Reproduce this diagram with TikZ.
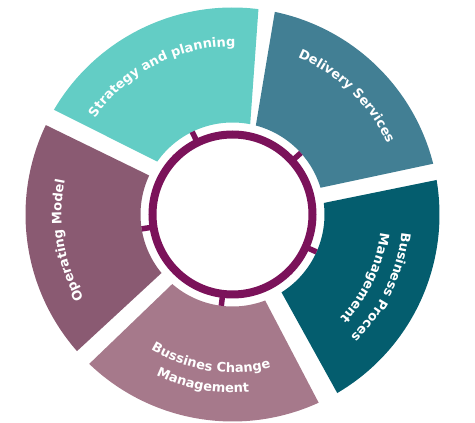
\documentclass[tikz,border=0pt]{standalone}
\usepackage{fontspec}
\setmainfont{DejaVu Sans}
\usetikzlibrary{decorations.text}
\definecolor{cTeal}{HTML}{63CDC5}
\definecolor{cDel}{HTML}{427F94}
\definecolor{cBP}{HTML}{045D6E}
\definecolor{cBC}{HTML}{A6798B}
\definecolor{cOM}{HTML}{8A5A72}
\definecolor{cRing}{HTML}{7B125A}
\newcommand\segfont{\fontsize{13}{15}\selectfont\bfseries}
\begin{document}
\begin{tikzpicture}[x=1pt,y=1pt,
  ringline/.style={draw=cRing, line width=8pt},
  ringtick/.style={draw=cRing, line width=5.5pt},
  arctext/.style={decorate, decoration={text along path, text={|\segfont|#1}, text align=center, text color=white}}]
\useasboundingbox (0,0) rectangle (475,423);
\begin{scope}[shift={(232.5,208.5)}]
  % segments: outer start/end, inner end/start angles
  \foreach \os/\oe/\ie/\is/\col in {149.6/82.8/78.9/144.9/cTeal, 78.2/14.2/16.9/75.3/cDel, 9.6/-59.6/-57.8/7.2/cBP, -65.4/-133.8/-130.9/-69.2/cBC, -138.7/-205.6/-205.1/-140.5/cOM}{
    \fill[\col] (\os:207) arc[start angle=\os, end angle=\oe, radius=207] -- (\ie:92) arc[start angle=\ie, end angle=\is, radius=92] -- cycle;
  }
  % ring and ticks
  \draw[ringline] (0,0) circle[radius=80];
  \foreach \a in {116,42,-24,-97,189}{
    \draw[ringtick] (\a:80) -- (\a:92);
  }
  % labels
  \path[arctext={Strategy and planning}] (177:168) arc[start angle=177, end angle=57, radius=168];
  \path[arctext={Delivery Services}] (106:170) arc[start angle=106, end angle=-14, radius=170];
  \path[arctext={Business Proces}] (34:170) arc[start angle=34, end angle=-86, radius=170];
  \path[arctext={Management}] (34.5:149) arc[start angle=34.5, end angle=-85.5, radius=149];
  \path[arctext={Bussines Change}] (-158.5:158) arc[start angle=-158.5, end angle=-38.5, radius=158];
  \path[arctext={Management}] (-160:178) arc[start angle=-160, end angle=-40, radius=178];
  \path[arctext={Operating Model}] (249:171) arc[start angle=249, end angle=129, radius=171];
\end{scope}
\end{tikzpicture}
\end{document}
